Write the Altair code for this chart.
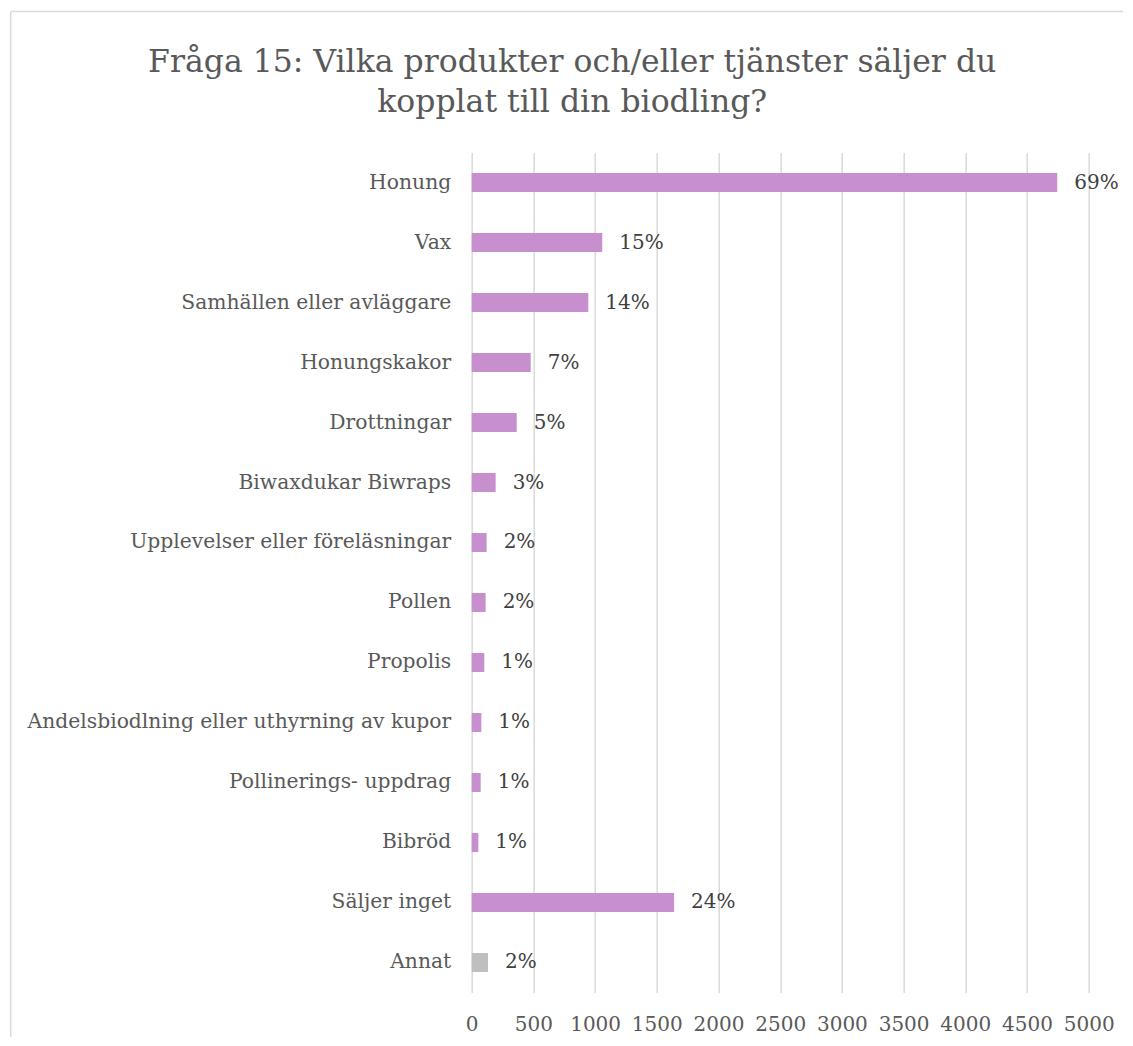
import altair as alt
import pandas as pd

categories = [
    "Honung",
    "Vax",
    "Samhällen eller avläggare",
    "Honungskakor",
    "Drottningar",
    "Biwaxdukar Biwraps",
    "Upplevelser eller föreläsningar",
    "Pollen",
    "Propolis",
    "Andelsbiodlning eller uthyrning av kupor",
    "Pollinerings- uppdrag",
    "Bibröd",
    "Säljer inget",
    "Annat",
]
values = [4745, 1058, 945, 478, 365, 194, 121, 113, 102, 78, 73, 54, 1640, 132]
pct_labels = ["69%", "15%", "14%", "7%", "5%", "3%", "2%", "2%", "1%", "1%", "1%", "1%", "24%", "2%"]
x_ticks = [0, 500, 1000, 1500, 2000, 2500, 3000, 3500, 4000, 4500, 5000]

title_lines = ["Fråga 15: Vilka produkter och/eller tjänster säljer du",
               "kopplat till din biodling?"]

df = pd.DataFrame({"cat": categories, "val": values, "pct": pct_labels})

FONT = "DejaVu Serif"

y_enc = alt.Y(
    "cat:N",
    sort=categories,
    title=None,
    scale=alt.Scale(paddingInner=0.6833, paddingOuter=0.3417),
    axis=alt.Axis(
        domain=False,
        ticks=False,
        labelFont=FONT,
        labelFontSize=20.3,
        labelColor="#595959",
        labelPadding=21,
        labelLimit=600,
        grid=False,
    ),
)
x_enc = alt.X(
    "val:Q",
    title=None,
    scale=alt.Scale(domain=[0, 5000], nice=False),
    axis=alt.Axis(
        values=x_ticks,
        domain=False,
        ticks=False,
        labelFont=FONT,
        labelFontSize=20,
        labelColor="#595959",
        labelPadding=22,
        labelOverlap=False,
        labelFlush=False,
        grid=True,
        gridColor="#D9D9D9",
        gridWidth=1.5,
        format="d",
    ),
)

bars = alt.Chart(df).mark_bar(size=19).encode(
    y=y_enc,
    x=x_enc,
    color=alt.condition(alt.datum.cat == "Annat", alt.value("#BFBFBF"), alt.value("#C78FCE")),
)

labels = alt.Chart(df).mark_text(
    align="left", baseline="middle", dx=17, font=FONT, fontSize=20, color="#404040"
).encode(
    y=alt.Y("cat:N", sort=categories),
    x=alt.X("val:Q"),
    text="pct:N",
)

border_df = pd.DataFrame({"a": [0]})
left_border = alt.Chart(border_df).mark_rule(color="#D9D9D9", strokeWidth=1.5).encode(
    x=alt.value(-461), y=alt.value(-141), y2=alt.value(950)
)
top_border = alt.Chart(border_df).mark_rule(color="#D9D9D9", strokeWidth=1.5).encode(
    x=alt.value(-461), x2=alt.value(700), y=alt.value(-141)
)

chart = alt.layer(left_border, top_border, bars, labels).properties(
    width=617,
    height=840,
    autosize=alt.AutoSizeParams(type="none"),
    padding={"left": 463.7, "top": 144.5, "right": 34, "bottom": 44},
    title=alt.TitleParams(
        text=title_lines,
        font=FONT,
        fontSize=31.5,
        fontWeight="normal",
        color="#595959",
        lineHeight=40,
        anchor="middle",
        frame="group",
        dx=-208,
        offset=-108,
    ),
).configure_view(stroke=None)

chart.save("out.html", embed_options={"renderer": "svg", "actions": False})
